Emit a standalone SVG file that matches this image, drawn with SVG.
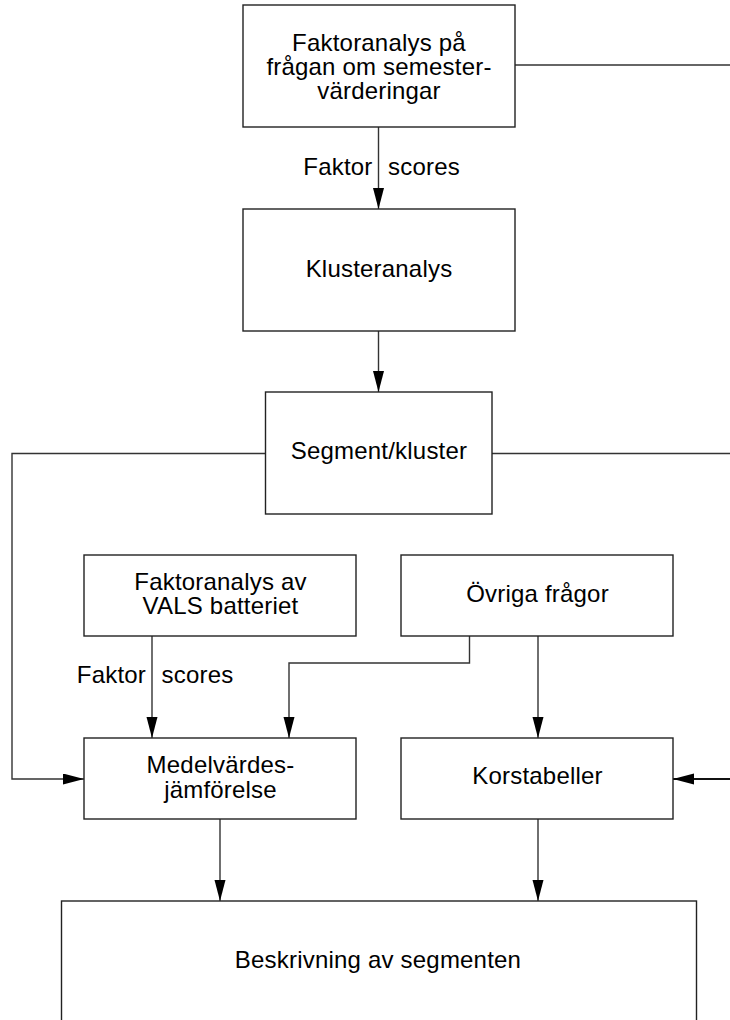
<svg xmlns="http://www.w3.org/2000/svg" width="730" height="1020" viewBox="0 0 730 1020">
<style>
.box{fill:#fff;stroke:#222;stroke-width:1.4}
.con{fill:none;stroke:#333;stroke-width:1.4}
.thick{stroke:#111;stroke-width:2.2}
text{font-family:"Liberation Sans",Arial,sans-serif;font-size:24px;letter-spacing:0.2px;fill:#000}
.c{text-anchor:middle}
.e{text-anchor:end}
</style>
<defs>
<marker id="ah" markerUnits="userSpaceOnUse" markerWidth="22" markerHeight="12" refX="21" refY="5.5" orient="auto">
<path d="M0,0 L21,5.5 L0,11 z" fill="#000"/>
</marker>
</defs>
<rect width="730" height="1020" fill="#fff"/>
<g id="connectors">
<line class="con" x1="515" y1="65" x2="730" y2="65"/>
<line class="con" x1="378.5" y1="127" x2="378.5" y2="209" marker-end="url(#ah)"/>
<line class="con" x1="378.5" y1="331" x2="378.5" y2="392" marker-end="url(#ah)"/>
<path class="con" d="M265.5,453.5 H12 V779 H84" marker-end="url(#ah)"/>
<line class="con" x1="492" y1="453.5" x2="730" y2="453.5"/>
<line class="con" x1="152" y1="636" x2="152" y2="738" marker-end="url(#ah)"/>
<path class="con" d="M469.5,636 V663 H289 V738" marker-end="url(#ah)"/>
<line class="con" x1="538" y1="636" x2="538" y2="738" marker-end="url(#ah)"/>
<line class="con thick" x1="730" y1="779" x2="673" y2="779" marker-end="url(#ah)"/>
<line class="con" x1="220" y1="819" x2="220" y2="901" marker-end="url(#ah)"/>
<line class="con" x1="538" y1="819" x2="538" y2="901" marker-end="url(#ah)"/>
<text class="e" x="372.5" y="175">Faktor</text>
<text x="388" y="175">scores</text>
<text class="e" x="146" y="683">Faktor</text>
<text x="161.5" y="683">scores</text>
</g>
<g id="node-faktoranalys-semester">
<rect class="box" x="243" y="5" width="272" height="122"/>
<text class="c" x="379" y="51">Faktoranalys på</text>
<text class="c" x="379" y="75">frågan om semester-</text>
<text class="c" x="379" y="99">värderingar</text>
</g>
<g id="node-klusteranalys">
<rect class="box" x="243" y="209" width="272" height="122"/>
<text class="c" x="379" y="277">Klusteranalys</text>
</g>
<g id="node-segment">
<rect class="box" x="265.5" y="392" width="226.5" height="122"/>
<text class="c" x="379" y="459">Segment/kluster</text>
</g>
<g id="node-vals">
<rect class="box" x="84" y="555" width="272" height="81"/>
<text class="c" x="220.5" y="590">Faktoranalys av</text>
<text class="c" x="220.5" y="614">VALS batteriet</text>
</g>
<g id="node-ovriga">
<rect class="box" x="401" y="555" width="272" height="81"/>
<text class="c" x="537.5" y="602">Övriga frågor</text>
</g>
<g id="node-medel">
<rect class="box" x="84" y="738" width="272" height="81"/>
<text class="c" x="220.5" y="773">Medelvärdes-</text>
<text class="c" x="220.5" y="798">jämförelse</text>
</g>
<g id="node-kors">
<rect class="box" x="401" y="738" width="272" height="81"/>
<text class="c" x="537.5" y="784">Korstabeller</text>
</g>
<g id="node-beskrivning">
<rect class="box" x="61.5" y="901" width="635" height="200"/>
<text class="c" x="378" y="968">Beskrivning av segmenten</text>
</g>
</svg>
